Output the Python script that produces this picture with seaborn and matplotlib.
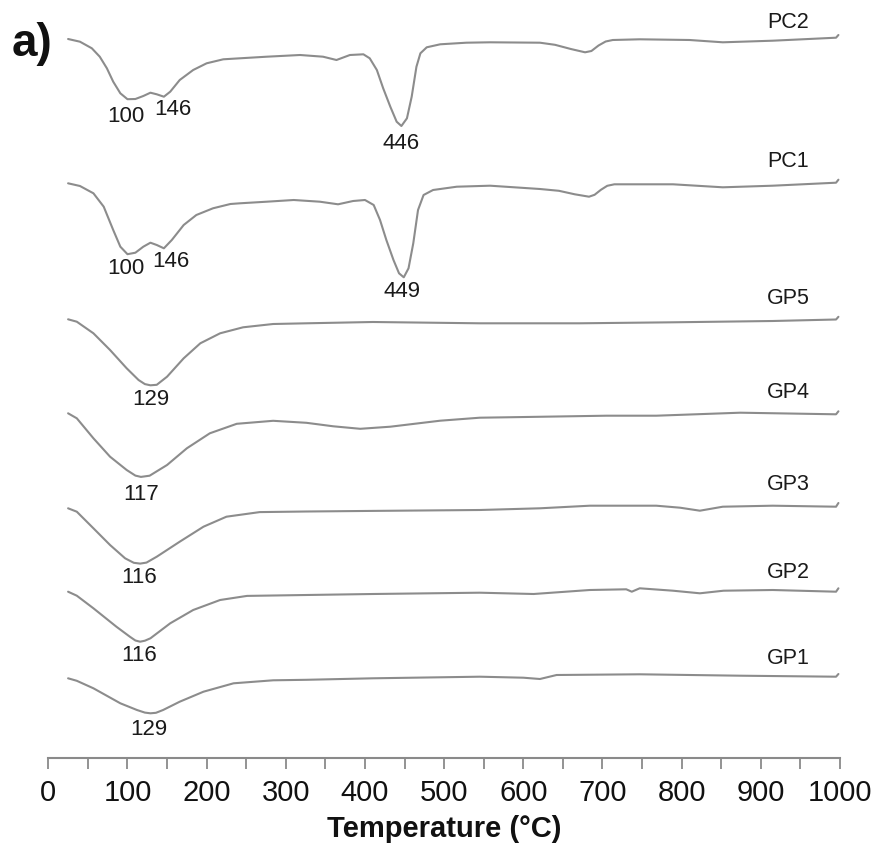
import numpy as np
import pandas as pd
import matplotlib
matplotlib.use("Agg")
import matplotlib.pyplot as plt
import seaborn as sns

# DTA traces (temperature in °C, signal in arbitrary units, 0 = start of trace)
pc2_t = [25, 40, 55, 65, 74, 82, 91, 100, 110, 120, 129, 137, 146, 154, 166, 183, 200, 221,
         242, 276, 318, 347, 364, 381, 398, 406, 415, 423, 432, 440, 446, 453, 459, 465,
         470, 478, 495, 528, 558, 621, 640, 660, 678, 686, 695, 704, 713, 747, 810, 852,
         915, 995, 998]
pc2_s = [0, -2.7, -9.3, -17.7, -29.3, -42.7, -54.3, -60.2, -60, -57, -53.7, -55.3, -57.7,
         -52.7, -41, -31, -24.3, -20.3, -19.3, -17.7, -16, -17.7, -21, -16, -15.3, -19.3,
         -31, -49.3, -67.7, -82.7, -87, -79.3, -57.7, -27.7, -14.3, -8.3, -5.3, -3.7, -3.3,
         -3.7, -5.8, -10, -13.3, -12, -6.5, -2.5, -1, -0.3, -1, -3.3, -1.7, 1.3, 4]

pc1_t = [25, 40, 57, 70, 82, 91, 100, 110, 120, 129, 137, 146, 156, 171, 187, 208, 230,
         242, 276, 310, 343, 366, 385, 400, 411, 419, 427, 436, 443, 449, 455, 461, 467,
         474, 486, 516, 558, 621, 645, 665, 683, 690, 698, 706, 715, 789, 852, 915, 995,
         998]
pc1_s = [0, -2.7, -10, -23.4, -46.7, -63.4, -70.9, -69.4, -63.4, -59.4, -61.7, -65, -56.7,
         -41.7, -31.7, -25, -20.7, -20, -18.4, -16.7, -18.4, -21, -17.7, -16.7, -21.7, -36.7,
         -56.7, -76.7, -90, -94, -85, -60, -26.7, -11.7, -6.7, -3.4, -2.4, -5.7, -7.5, -11,
         -13.4, -11.5, -6.5, -2.5, -1, -1, -4, -2.4, 0.6, 3.6]

gp5_t = [25, 36, 57, 78, 99, 114, 122, 129, 137, 150, 171, 192, 217, 246, 284, 326, 410,
         545, 671, 789, 915, 995, 998]
gp5_s = [0, -2.4, -14, -30.7, -49, -60.7, -64.8, -66, -65.5, -57.4, -39, -24, -14, -8,
         -4.7, -4, -2.7, -4, -4, -3, -1.7, -0.2, 2.5]

gp4_t = [25, 36, 57, 78, 99, 110, 117, 128, 150, 175, 204, 238, 284, 326, 360, 394, 432,
         495, 545, 579, 705, 768, 874, 995, 998]
gp4_s = [0, -5, -25, -43.4, -56.7, -62.3, -63.6, -62.4, -51.7, -35, -20, -10.5, -7.5, -9.5,
         -13, -15.5, -13.4, -7.4, -4.4, -4, -2.4, -2.4, 0.6, -1, 2]

gp3_t = [25, 36, 57, 78, 97, 108, 116, 124, 137, 166, 196, 225, 267, 326, 410, 545, 621,
         684, 768, 798, 823, 852, 915, 995, 998]
gp3_s = [0, -3.4, -20, -36.7, -50, -54.5, -55.3, -54.3, -48.4, -33.4, -18.4, -8.4, -3.8,
         -3.2, -2.6, -1.7, 0, 2.6, 2.6, 0.6, -2.4, 1.6, 2.6, 1.6, 5.3]

gp2_t = [25, 36, 57, 86, 103, 110, 116, 122, 129, 154, 183, 217, 251, 326, 410, 545, 613,
         684, 730, 737, 747, 789, 823, 853, 915, 995, 998]
gp2_s = [0, -4, -16.6, -35, -45, -48.8, -50, -49, -46.6, -31.6, -18.3, -8.3, -4.2, -3.3,
         -2.3, -1, -2.3, 1.7, 2.4, 0, 3.4, 1, -1.6, 1, 1.7, 0, 3.4]

gp1_t = [25, 36, 57, 91, 112, 122, 129, 136, 145, 166, 196, 234, 284, 326, 410, 545, 600,
         621, 642, 747, 874, 995, 998]
gp1_s = [0, -2.5, -10, -25, -31.7, -34.3, -35, -34.5, -31.7, -23.4, -13.4, -5, -2, -1.5,
         0, 1.6, 0.6, -0.7, 3.3, 4, 2.6, 1.6, 4.3]

samples = ["PC2", "PC1", "GP5", "GP4", "GP3", "GP2", "GP1"]
temps = [pc2_t, pc1_t, gp5_t, gp4_t, gp3_t, gp2_t, gp1_t]
signals = [pc2_s, pc1_s, gp5_s, gp4_s, gp3_s, gp2_s, gp1_s]

# Peak temperatures annotated under each trace
peaks = {
    "PC2": [100, 146, 446],
    "PC1": [100, 146, 449],
    "GP5": [129],
    "GP4": [117],
    "GP3": [116],
    "GP2": [116],
    "GP1": [129],
}

# Vertical stacking of the traces
offsets = {"PC2": 719.3, "PC1": 575, "GP5": 439, "GP4": 345, "GP3": 250, "GP2": 166.6, "GP1": 80}
# Pixel shifts of the peak labels from the peak point
peak_shift = {
    "PC2": [(-1.5, -17.5), (9, -13), (0, -17)],
    "PC1": [(-1.5, -14), (7, -13), (-2, -14.5)],
    "GP5": [(0.5, -14.5)],
    "GP4": [(0, -18)],
    "GP3": [(-1, -14)],
    "GP2": [(-1, -13.5)],
    "GP1": [(-2, -16)],
}
# Name label positions (data coords)
name_pos = {"PC2": 736, "PC1": 596.5, "GP5": 460.3, "GP4": 366.3, "GP3": 273.3, "GP2": 186.3, "GP1": 100.3}

rows = []
for name, t, s in zip(samples, temps, signals):
    for ti, si in zip(t, s):
        rows.append({"sample": name, "T": ti, "y": si + offsets[name]})
df = pd.DataFrame(rows)

sns.set_theme(style="ticks")
plt.rcParams["font.family"] = ["Liberation Sans", "DejaVu Sans"]

W, H = 878, 857
fig = plt.figure(figsize=(W / 100, H / 100), dpi=100)
left, right, top_px, bottom_px = 48.3, 840.0, 20.0, 758.3
ax = fig.add_axes([left / W, 1 - bottom_px / H, (right - left) / W, (bottom_px - top_px) / H])

line_color = "#8c8c8c"
sns.lineplot(data=df, x="T", y="y", units="sample", estimator=None, sort=False,
             color=line_color, linewidth=1.5, ax=ax, legend=False)
for ln in ax.get_lines():
    ln.set_solid_joinstyle("round")
    ln.set_solid_capstyle("round")

ax.set_xlim(0, 1000)
ax.set_ylim(0, bottom_px - top_px)

# peak and sample labels
for name, t, s in zip(samples, temps, signals):
    for pk, (dx, dy) in zip(peaks[name], peak_shift[name]):
        yv = np.interp(pk, t, s) + offsets[name]
        ax.annotate(str(pk), xy=(pk, yv), xytext=(dx, dy), textcoords="offset pixels",
                    ha="center", va="center", fontsize=16, color="#1a1a1a")
    ax.text(935, name_pos[name], name, ha="center", va="center", fontsize=15.5,
            color="#1a1a1a", clip_on=False)

ax.set_xticks(np.arange(0, 1001, 100))
ax.set_xticks(np.arange(50, 1000, 100), minor=True)
ax.tick_params(axis="x", which="both", direction="out", length=8, width=1.3,
               color="#8a8a8a", labelsize=21, labelcolor="#111111", pad=7)
ax.set_yticks([])
sns.despine(ax=ax, left=True, top=True, right=True)
ax.spines["bottom"].set_color("#8a8a8a")
ax.spines["bottom"].set_linewidth(1.5)
ax.set_xlabel("Temperature (°C)", fontsize=21, fontweight="bold", color="#111111", labelpad=6)
ax.set_ylabel("")

fig.text(32 / W, 1 - 44 / H, "a)", fontsize=33, fontweight="bold", ha="center", va="center",
         color="#111111")

fig.savefig("out.png", dpi=100)
